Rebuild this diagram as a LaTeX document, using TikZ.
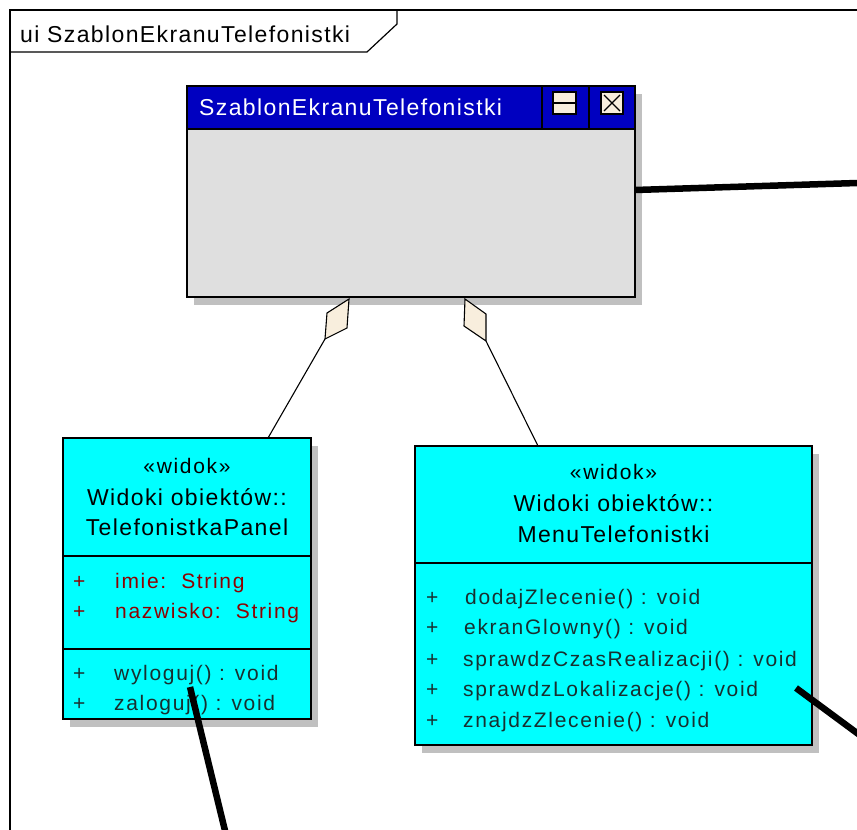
\documentclass[tikz,border=0pt]{standalone}
\usepackage{fontspec}
\setmainfont{Liberation Sans}
\newfontfamily\hdfont{Liberation Sans}[LetterSpace=6]
\newfontfamily\mbfont{Liberation Sans}[LetterSpace=8]
\usetikzlibrary{calc,shadows}

\definecolor{classcyan}{HTML}{00FFFF}
\definecolor{titleblue}{HTML}{0000C0}
\definecolor{winbody}{HTML}{DFDFDF}
\definecolor{shade}{HTML}{C0C0C0}
\definecolor{diamondfill}{HTML}{F8EEDD}
\definecolor{attrred}{HTML}{8F0000}
\definecolor{opteal}{HTML}{183030}

\begin{document}
\begin{tikzpicture}[x=1pt,y=-1pt,
  umlframe/.style={draw=black, line width=1.2pt},
  hd/.style={font=\hdfont\fontsize{23}{27}\selectfont, inner sep=0pt, anchor=base},
  hdleft/.style={hd, anchor=base west},
  stereo/.style={font=\mbfont\fontsize{21}{25}\selectfont, inner sep=0pt, anchor=base},
  mb/.style={font=\mbfont\fontsize{21}{25}\selectfont, inner sep=0pt, anchor=base west, text=opteal},
  attr/.style={mb, text=attrred},
  umlbox/.style={draw=black, line width=1.5pt, fill=classcyan, anchor=north west,
    inner sep=0pt, outer sep=0pt,
    drop shadow={fill=shade, opacity=1, shadow xshift=7pt, shadow yshift=-8pt}},
  winbox/.style={umlbox, fill=winbody},
  wire/.style={draw=black, line width=6.5pt},
  aggdiamond/.style={draw=black, line width=1.1pt, fill=diamondfill, line join=miter},
  aggline/.style={draw=black, line width=1.1pt}
]
\useasboundingbox (0,0) rectangle (857,830);
\fill[white] (0,0) rectangle (857,830);

% diagram frame with its name tab
\draw[umlframe] (10,840) -- (10,10) -- (870,10);
\draw[umlframe] (10,52) -- (367,52) -- (397,24) -- (397,10);
\node[hdleft] (framelabel) at (20,42) {ui SzablonEkranuTelefonistki};

% screen template window
\node[winbox, minimum width=448pt, minimum height=211pt] (win) at (187,86) {};
\fill[titleblue] (win.north west) rectangle (win.east |- 0,129);
\draw[line width=1.5pt] (win.west |- 0,129) -- (win.east |- 0,129);
\draw[line width=1.5pt] (win.north -| 542,0) -- (542,129);
\draw[line width=1.5pt] (win.north -| 589,0) -- (589,129);
\draw[line width=1.5pt] (win.north west) rectangle (win.south east);
\node[hdleft, text=white] (wintitle) at (199,115) {SzablonEkranuTelefonistki};
% title bar buttons
\draw[fill=diamondfill, line width=2pt] (553,92) rectangle (576,114);
\draw[line width=2pt] (553,103) -- (576,103);
\draw[fill=diamondfill, line width=2.4pt] (601,92) rectangle (623,114);
\draw[line width=1.2pt] (604,95) -- (620,111) (620,95) -- (604,111);

% class TelefonistkaPanel
\node[umlbox, minimum width=248pt, minimum height=281pt] (panel) at (63,438) {};
\draw[line width=1.5pt] (panel.west |- 0,556) -- (panel.east |- 0,556);
\draw[line width=1.5pt] (panel.west |- 0,649) -- (panel.east |- 0,649);
\node[stereo] (panelst) at (187,473) {«widok»};
\node[hd] (panelpk) at (187,505) {Widoki obiektów::};
\node[hd] (panelnm) at (187,535) {TelefonistkaPanel};
\node[attr] (pp1) at (73,588) {+};
\node[attr] (pa1) at (115,588) {imie:\ \ String};
\node[attr] (pp2) at (73,618) {+};
\node[attr] (pa2) at (115,618) {nazwisko:\ \ String};
\node[mb] (pp3) at (73,680) {+};
\node[mb] (po1) at (114,680) {wyloguj() : void};
\node[mb] (pp4) at (73,710) {+};
\node[mb] (po2) at (114,710) {zaloguj() : void};

% class MenuTelefonistki
\node[umlbox, minimum width=397pt, minimum height=299pt] (menu) at (415,446) {};
\draw[line width=1.5pt] (menu.west |- 0,563) -- (menu.east |- 0,563);
\node[stereo] (menust) at (613.5,479) {«widok»};
\node[hd] (menupk) at (613.5,511) {Widoki obiektów::};
\node[hd] (menunm) at (613.5,542) {MenuTelefonistki};
\node[mb] (mp1) at (426,604) {+};
\node[mb] (mo1) at (465,604) {dodajZlecenie() : void};
\node[mb] (mp2) at (426,634) {+};
\node[mb] (mo2) at (464,634) {ekranGlowny() : void};
\node[mb] (mp3) at (426,666) {+};
\node[mb] (mo3) at (463,666) {sprawdzCzasRealizacji() : void};
\node[mb] (mp4) at (426,696) {+};
\node[mb] (mo4) at (463,696) {sprawdzLokalizacje() : void};
\node[mb] (mp5) at (426,727) {+};
\node[mb] (mo5) at (463,727) {znajdzZlecenie() : void};

% aggregations from the window to both classes
\coordinate (aggLtip) at ($(win.south west)+(162,2)$);
\coordinate (aggLend) at ($(win.south west)+(138,42)$);
\draw[aggdiamond] (aggLtip) -- ($(win.south west)+(140,16)$) -- (aggLend)
  -- ($(win.south west)+(160,31)$) -- cycle;
\draw[aggline] (aggLend) -- ($(panel.north west)+(205,0)$);
\coordinate (aggRtip) at ($(win.south west)+(278,2)$);
\coordinate (aggRend) at ($(win.south west)+(299,44)$);
\draw[aggdiamond] (aggRtip) -- ($(win.south west)+(299,17)$) -- (aggRend)
  -- ($(win.south west)+(277,29)$) -- cycle;
\draw[aggline] (aggRend) -- ($(menu.north west)+(123,0)$);

% heavy links leaving the picture
\coordinate (wireA) at (870,182.6);
\draw[wire] (win.east |- 0,190) -- (wireA);
\coordinate (wireB) at (228.5,845);
\draw[wire] ($(panel.south west)+(127,-32)$) -- (wireB);
\coordinate (wireC) at (880,750);
\draw[wire] ($(menu.south east)+(-16,-57)$) -- (wireC);
\end{tikzpicture}
\end{document}
